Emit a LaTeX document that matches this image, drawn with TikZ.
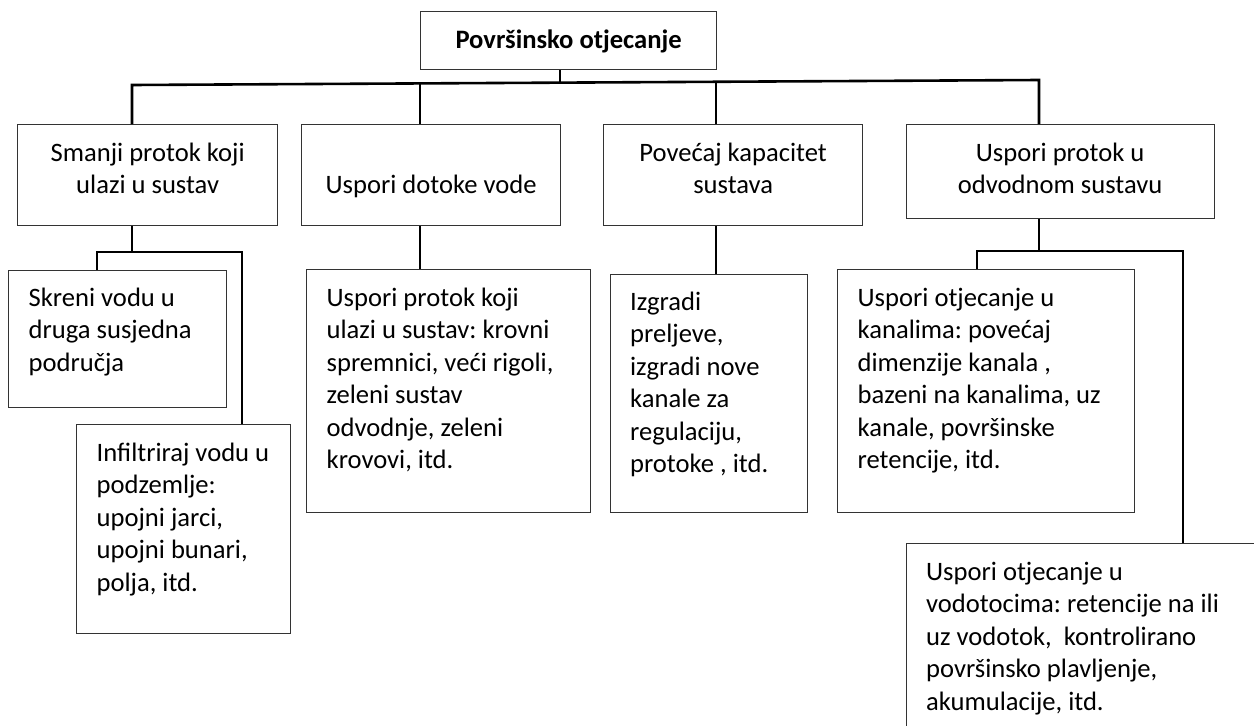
\documentclass[tikz,border=0pt]{standalone}
\usepackage{fontspec}
\usetikzlibrary{calc}
\setmainfont{Carlito}
\frenchspacing
\newcommand{\lbox}[4]{\begin{minipage}[c][#2][t]{#1}\vspace*{#3}\raggedright\leftskip=20pt\relax\frenchspacing\strut#4\end{minipage}}
\newcommand{\cbox}[4]{\begin{minipage}[c][#2][t]{#1}\vspace*{#3}\centering\frenchspacing\strut#4\end{minipage}}
\begin{document}
\begin{tikzpicture}[x=1pt,y=-1pt,
  box/.style={draw=black!80,line width=1.3pt,inner sep=0pt,anchor=north west,
    font=\fontsize{26.6pt}{32.5pt}\selectfont},
  conn/.style={line width=2.6pt,black}]
\useasboundingbox (0,0) rectangle (1254,726);
\clip (0,0) rectangle (1254,726);
% boxes
\node[box] (top) at (420,11) {\cbox{296pt}{58pt}{14pt}{\textbf{Površinsko otjecanje}}};
\node[box] (b1) at (17,124) {\cbox{260pt}{101pt}{14pt}{Smanji protok koji\\ulazi u sustav}};
\node[box] (b2) at (301,124) {\cbox{259pt}{101pt}{46.5pt}{Uspori dotoke vode}};
\node[box] (b3) at (603,124) {\cbox{259pt}{101pt}{14pt}{Povećaj kapacitet\\sustava}};
\node[box] (b4) at (905.5,124) {\cbox{308pt}{94pt}{14pt}{Uspori protok u\\odvodnom sustavu}};
\node[box] (c11) at (8,270) {\lbox{218pt}{137pt}{13pt}{Skreni vodu u\\druga susjedna\\područja}};
\node[box] (c12) at (76,424) {\lbox{214pt}{209pt}{14pt}{Infiltriraj vodu u\\podzemlje:\\upojni jarci,\\upojni bunari,\\polja, itd.}};
\node[box] (c2) at (306,269) {\lbox{284pt}{243pt}{14pt}{Uspori protok koji\\ulazi u sustav: krovni\\spremnici, veći rigoli,\\zeleni sustav\\odvodnje, zeleni\\krovovi, itd.}};
\node[box] (c3) at (609.5,274) {\lbox{197.5pt}{238pt}{13pt}{Izgradi\\preljeve,\\izgradi nove\\kanale za\\regulaciju,\\protoke , itd.}};
\node[box] (c41) at (837,269) {\lbox{296.5pt}{243pt}{14pt}{Uspori otjecanje u\\kanalima: povećaj\\dimenzije kanala ,\\bazeni na kanalima, uz\\kanale, površinske\\retencije, itd.}};
\node[box] (c42) at (905.5,543) {\lbox{380pt}{230pt}{14pt}{Uspori otjecanje u\\vodotocima: retencije na ili\\uz vodotok,\ \ kontrolirano\\površinsko plavljenje,\\akumulacije, itd.}};
% junctions
\coordinate (busL) at (132,85);
\coordinate (busR) at (1039,80);
\coordinate (j0) at ($(busL)!0.4719!(busR)$);
\coordinate (d2) at ($(busL)!0.3175!(busR)$);
\coordinate (d3) at ($(busL)!0.6439!(busR)$);
\coordinate (k1) at (132,252);
\coordinate (k1L) at (97,252);
\coordinate (k1R) at (242,252);
\coordinate (k4) at (1039,251);
\coordinate (k4L) at (977,251);
\coordinate (k4R) at (1183,251);
% connectors
\draw[conn] (j0 |- top.south) -- (j0);
\draw[conn] (busL |- b1.north) -- (busL) -- (busR) -- (busR |- b4.north);
\draw[conn] (d2) -- (d2 |- b2.north);
\draw[conn] (d3) -- (d3 |- b3.north);
\draw[conn] (k1 |- b1.south) -- (k1);
\draw[conn] (k1L |- c11.north) -- (k1L) -- (k1R) -- (k1R |- c12.north);
\draw[conn] (d2 |- b2.south) -- (d2 |- c2.north);
\draw[conn] (d3 |- b3.south) -- (d3 |- c3.north);
\draw[conn] (k4 |- b4.south) -- (k4);
\draw[conn] (k4L |- c41.north) -- (k4L) -- (k4R) -- (k4R |- c42.north);
\end{tikzpicture}
\end{document}
